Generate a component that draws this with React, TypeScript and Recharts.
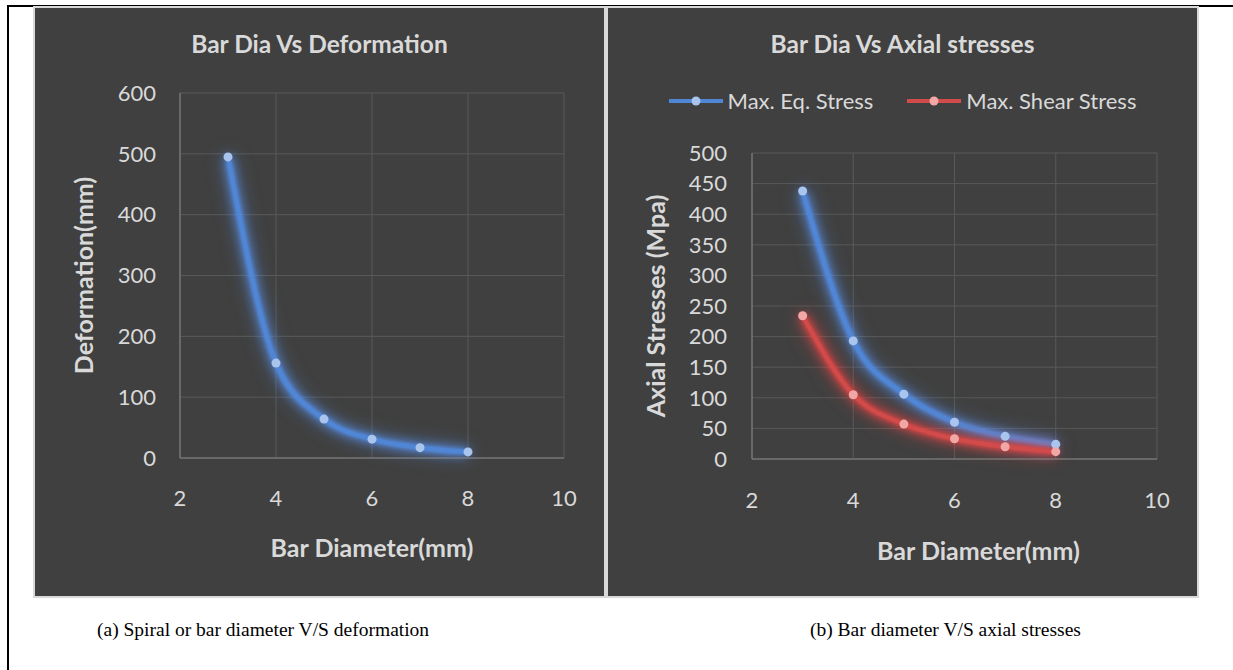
import React from 'react';
import { LineChart, Line, XAxis, YAxis, CartesianGrid, Legend, Label } from 'recharts';

// bar diameter (mm)
const diameters = [3, 4, 5, 6, 7, 8];
// (a) deformation (mm)
const deformation = [495, 156, 64, 31, 17, 10];
// (b) stresses (MPa)
const eqStress = [438, 193, 106, 60, 37, 24];
const shearStress = [234, 105, 57, 33, 20, 12];

const xTicks = [2, 4, 6, 8, 10];
const deformTicks = [0, 100, 200, 300, 400, 500, 600];
const stressTicks = [0, 50, 100, 150, 200, 250, 300, 350, 400, 450, 500];

const BG = '#404040';
const GRID = '#595959';
const AXIS = '#858585';
const TEXT = '#d9d9d9';
const BLUE = '#4f87d6';
const BLUE_DOT = '#a9c5ee';
const RED = '#d14b4b';
const RED_DOT = '#f2a7a7';
const FONT = 'Lato, "Open Sans", sans-serif';

const tickStyle = { fill: TEXT, fontSize: 22, fontFamily: FONT };
const titleLabelStyle = { fill: TEXT, fontSize: 25, fontFamily: FONT, fontWeight: 700 };

const deformData = diameters.map((d, i) => ({ d, deformation: deformation[i] }));
const stressData = diameters.map((d, i) => ({ d, eq: eqStress[i], shear: shearStress[i] }));

const legendItems = [
  { name: 'Max. Eq. Stress', line: BLUE, dot: BLUE_DOT },
  { name: 'Max. Shear Stress', line: RED, dot: RED_DOT },
];

function StressLegend() {
  return (
    <div style={{ display: 'flex', justifyContent: 'center', alignItems: 'center', gap: 34 }}>
      {legendItems.map((it) => (
        <div key={it.name} style={{ display: 'flex', alignItems: 'center' }}>
          <svg width={54} height={12}>
            <line x1={0} y1={6} x2={54} y2={6} stroke={it.line} strokeWidth={4} />
            <circle cx={27} cy={6} r={4.5} fill={it.dot} />
          </svg>
          <span style={{ marginLeft: 5, color: TEXT, fontSize: 22, fontFamily: FONT, lineHeight: '28px' }}>
            {it.name}
          </span>
        </div>
      ))}
    </div>
  );
}

const panelStyle = (left: number, width: number): React.CSSProperties => ({
  position: 'absolute',
  left,
  top: 6,
  width,
  height: 588,
  border: '2px solid #d9d9d9',
  background: BG,
});

const chartTitle = (left: number, width: number): React.CSSProperties => ({
  position: 'absolute',
  left,
  top: 29,
  width,
  textAlign: 'center',
  color: TEXT,
  fontFamily: FONT,
  fontWeight: 700,
  fontSize: 24.5,
  lineHeight: '30px',
});

const captionStyle = (left: number): React.CSSProperties => ({
  position: 'absolute',
  left,
  top: 618,
  fontFamily: '"Liberation Serif", "Times New Roman", serif',
  fontSize: 19.5,
  lineHeight: '24px',
  color: '#000',
  whiteSpace: 'nowrap',
});

export default function App() {
  return (
    <div style={{ position: 'absolute', left: 0, top: 0, width: 1233, height: 670, background: '#fff', overflow: 'hidden' }}>
      <style>{`
        .glow-blue { filter: drop-shadow(0 0 2px rgba(90,150,245,1)) drop-shadow(0 0 5px rgba(90,150,245,0.9)) drop-shadow(0 0 8px rgba(90,150,245,0.6)); }
        .glow-red { filter: drop-shadow(0 0 2px rgba(240,70,70,1)) drop-shadow(0 0 5px rgba(240,70,70,0.9)) drop-shadow(0 0 8px rgba(240,70,70,0.6)); }
      `}</style>

      <div style={{ position: 'absolute', left: 7, top: 5, width: 1226, height: 2, background: '#000' }} />
      <div style={{ position: 'absolute', left: 7, top: 5, width: 2, height: 665, background: '#000' }} />

      <div style={panelStyle(33, 569)} />
      <div style={panelStyle(606, 589)} />

      {/* (a) deformation */}
      <div style={{ position: 'absolute', left: 35, top: 8 }}>
        <LineChart width={569} height={588} data={deformData} margin={{ top: 85, right: 40, bottom: 0, left: 0 }}>
          <CartesianGrid stroke={GRID} strokeWidth={1} />
          <XAxis
            dataKey="d"
            type="number"
            domain={[2, 10]}
            ticks={xTicks}
            interval={0}
            height={138}
            tick={tickStyle}
            tickSize={0}
            tickMargin={32}
            axisLine={{ stroke: AXIS }}
          >
            <Label value="Bar Diameter(mm)" position="insideBottom" offset={39} style={titleLabelStyle} />
          </XAxis>
          <YAxis
            type="number"
            domain={[0, 600]}
            ticks={deformTicks}
            interval={0}
            width={145}
            tick={tickStyle}
            tickSize={0}
            tickMargin={24}
            axisLine={{ stroke: AXIS }}
          >
            <Label
              value="Deformation(mm)"
              position="insideLeft"
              angle={-90}
              offset={49}
              style={{ ...titleLabelStyle, textAnchor: 'middle' }}
            />
          </YAxis>
          <Line
            className="glow-blue"
            type="monotone"
            dataKey="deformation"
            stroke={BLUE}
            strokeWidth={4}
            dot={{ r: 4.5, fill: BLUE_DOT, stroke: 'none' }}
            isAnimationActive={false}
          />
        </LineChart>
      </div>
      <div style={chartTitle(35, 569)}>Bar Dia Vs Deformation</div>

      {/* (b) stresses */}
      <div style={{ position: 'absolute', left: 608, top: 8 }}>
        <LineChart width={589} height={588} data={stressData} margin={{ top: 145, right: 40, bottom: 0, left: 0 }}>
          <CartesianGrid stroke={GRID} strokeWidth={1} />
          <XAxis
            dataKey="d"
            type="number"
            domain={[2, 10]}
            ticks={xTicks}
            interval={0}
            height={137}
            tick={tickStyle}
            tickSize={0}
            tickMargin={33}
            axisLine={{ stroke: AXIS }}
          >
            <Label value="Bar Diameter(mm)" position="insideBottom" offset={36} dx={24} style={titleLabelStyle} />
          </XAxis>
          <YAxis
            type="number"
            domain={[0, 500]}
            ticks={stressTicks}
            interval={0}
            width={144}
            tick={tickStyle}
            tickSize={0}
            tickMargin={25}
            axisLine={{ stroke: AXIS }}
          >
            <Label
              value="Axial Stresses (Mpa)"
              position="insideLeft"
              angle={-90}
              offset={48}
              style={{ ...titleLabelStyle, textAnchor: 'middle' }}
            />
          </YAxis>
          <Legend
            layout="horizontal"
            verticalAlign="middle"
            align="center"
            content={() => <StressLegend />}
            wrapperStyle={{ top: 79, left: 0, width: 589, height: 28 }}
          />
          <Line
            className="glow-blue"
            name="Max. Eq. Stress"
            type="monotone"
            dataKey="eq"
            stroke={BLUE}
            strokeWidth={4}
            dot={{ r: 4.5, fill: BLUE_DOT, stroke: 'none' }}
            isAnimationActive={false}
          />
          <Line
            className="glow-red"
            name="Max. Shear Stress"
            type="monotone"
            dataKey="shear"
            stroke={RED}
            strokeWidth={4}
            dot={{ r: 4.5, fill: RED_DOT, stroke: 'none' }}
            isAnimationActive={false}
          />
        </LineChart>
      </div>
      <div style={chartTitle(608, 589)}>Bar Dia Vs Axial stresses</div>

      <div style={captionStyle(97)}>(a) Spiral or bar diameter V/S deformation</div>
      <div style={captionStyle(810)}>(b) Bar diameter V/S axial stresses</div>
    </div>
  );
}
